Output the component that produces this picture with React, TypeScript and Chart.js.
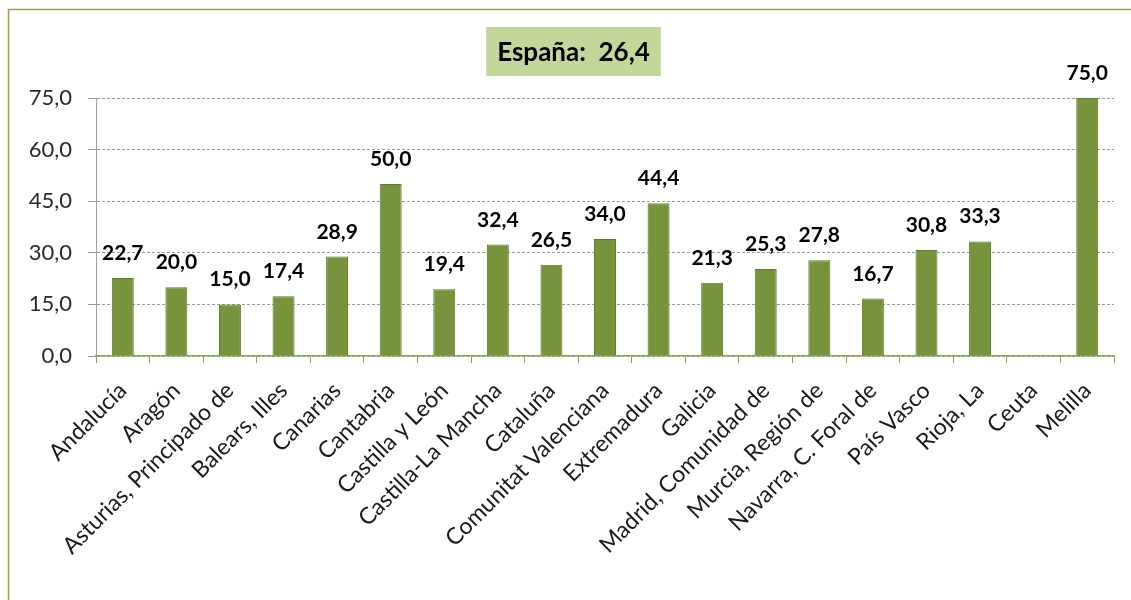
import React, { useEffect, useRef } from "react";
import { Chart, registerables } from "chart.js";

Chart.register(...registerables);

const categories = [
  "Andalucía",
  "Aragón",
  "Asturias, Principado de",
  "Balears, Illes",
  "Canarias",
  "Cantabria",
  "Castilla y León",
  "Castilla-La Mancha",
  "Cataluña",
  "Comunitat Valenciana",
  "Extremadura",
  "Galicia",
  "Madrid, Comunidad de",
  "Murcia, Región de",
  "Navarra, C. Foral de",
  "País Vasco",
  "Rioja, La",
  "Ceuta",
  "Melilla",
];
const values: (number | null)[] = [
  22.7, 20.0, 15.0, 17.4, 28.9, 50.0, 19.4, 32.4, 26.5, 34.0, 44.4, 21.3, 25.3,
  27.8, 16.7, 30.8, 33.3, null, 75.0,
];
const yTicks = [0, 15, 30, 45, 60, 75];
const spainLabel = "España:";
const spainValue = 26.4;

const fmt = (v: number) => v.toFixed(1).replace(".", ",");

const GREEN = "#77933C";
const GREEN_DARK = "#5E7A2B";
const FRAME = "#8AA84F";
const FONT = "Lato, 'Open Sans', sans-serif";

export default function App() {
  const ref = useRef<HTMLCanvasElement | null>(null);

  useEffect(() => {
    const canvas = ref.current;
    if (!canvas) return;

    const framePlugin = {
      id: "frame",
      beforeDraw(chart: any) {
        const { ctx, width, height } = chart;
        ctx.save();
        ctx.fillStyle = "#ffffff";
        ctx.fillRect(0, 0, width, height);
        ctx.strokeStyle = FRAME;
        ctx.lineWidth = 1.5;
        ctx.beginPath();
        ctx.moveTo(8.5, height);
        ctx.lineTo(8.5, 9.5);
        ctx.lineTo(width, 9.5);
        ctx.stroke();
        ctx.restore();
      },
    };

    const labelsPlugin = {
      id: "barLabels",
      afterDatasetsDraw(chart: any) {
        const { ctx } = chart;
        const meta = chart.getDatasetMeta(0);
        ctx.save();
        ctx.font = `bold 21px ${FONT}`;
        ctx.fillStyle = "#000000";
        ctx.textAlign = "center";
        ctx.textBaseline = "alphabetic";
        meta.data.forEach((bar: any, i: number) => {
          const v = values[i];
          if (v === null || v === undefined) return;
          ctx.fillText(fmt(v), bar.x, bar.y - 18);
        });
        ctx.restore();
      },
    };

    const titlePlugin = {
      id: "spainBox",
      afterDraw(chart: any) {
        const { ctx, width, chartArea } = chart;
        const text = `${spainLabel}  ${fmt(spainValue)}`;
        ctx.save();
        ctx.font = `bold 26px ${FONT}`;
        const tw = ctx.measureText(text).width;
        const bw = tw + 22;
        const bh = 49;
        const cx = width / 2 + 8;
        const top = chartArea.top - 71;
        ctx.fillStyle = "#C4D79B";
        ctx.fillRect(cx - bw / 2, top, bw, bh);
        ctx.fillStyle = "#000000";
        ctx.textAlign = "center";
        ctx.textBaseline = "middle";
        ctx.fillText(text, cx, top + bh / 2 + 1);
        ctx.restore();
      },
    };

    const chart = new Chart(canvas, {
      type: "bar",
      data: {
        labels: categories,
        datasets: [
          {
            data: values,
            backgroundColor: GREEN,
            borderColor: GREEN_DARK,
            borderWidth: 1,
            barPercentage: 0.41,
            categoryPercentage: 1,
          },
        ],
      },
      options: {
        responsive: false,
        animation: false,
        layout: { padding: { top: 98, right: 17, left: 0, bottom: 0 } },
        plugins: {
          legend: { display: false },
          tooltip: { enabled: false },
          title: { display: false },
        },
        scales: {
          x: {
            afterFit: (s: any) => {
              s.height = 244;
            },
            grid: {
              drawOnChartArea: false,
              drawTicks: true,
              tickLength: 7,
              tickColor: FRAME,
              offset: true,
              lineWidth: 1,
            },
            border: { color: FRAME, width: 1.5 },
            ticks: {
              minRotation: 45,
              maxRotation: 45,
              autoSkip: false,
              padding: 14,
              color: "#1a1a1a",
              font: { family: FONT, size: 23 },
            },
          },
          y: {
            min: 0,
            max: 75,
            afterBuildTicks: (s: any) => {
              s.ticks = yTicks.map((v) => ({ value: v }));
            },
            afterFit: (s: any) => {
              s.width = 96;
            },
            grid: {
              color: "#9A9A9A",
              lineWidth: 1,
              drawTicks: true,
              tickLength: 8,
              tickColor: "#9A9A9A",
              tickBorderDash: [],
            },
            border: { color: "#A0A0A0", width: 1, dash: [3, 2] },
            ticks: {
              padding: 16,
              color: "#2a2a2a",
              font: { family: FONT, size: 22 },
              callback: (v: any) => fmt(Number(v)),
            },
          },
        },
      },
      plugins: [framePlugin, labelsPlugin, titlePlugin],
    });

    return () => chart.destroy();
  }, []);

  return (
    <canvas
      ref={ref}
      width={1131}
      height={600}
      style={{ position: "absolute", left: 0, top: 0, width: 1131, height: 600, display: "block" }}
    />
  );
}
